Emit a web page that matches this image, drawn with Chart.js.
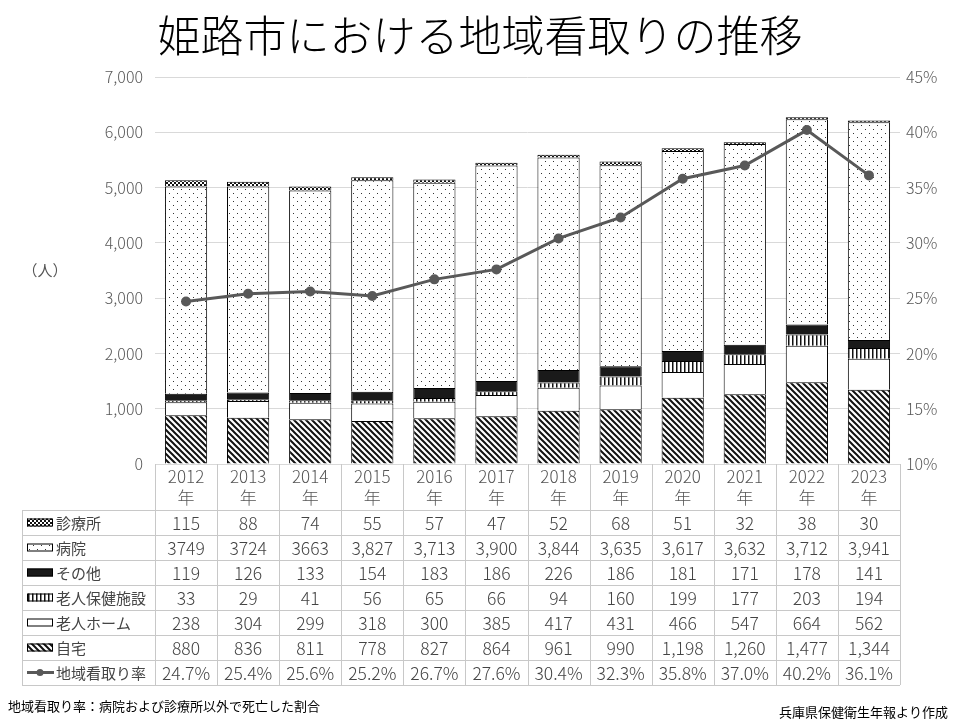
<!DOCTYPE html>
<html lang="ja">
<head>
<meta charset="UTF-8">
<title>姫路市における地域看取りの推移</title>
<script src="https://cdn.jsdelivr.net/npm/chart.js"></script>
<style>
  body { margin: 0; background: #fff; }
  #wrap { width: 960px; height: 720px; }
</style>
</head>
<body>
<div id="wrap"><canvas id="c" width="960" height="720"></canvas></div>
<script>
const years = ['2012', '2013', '2014', '2015', '2016', '2017', '2018', '2019', '2020', '2021', '2022', '2023'];
const clinic = [115, 88, 74, 55, 57, 47, 52, 68, 51, 32, 38, 30];
const hospital = [3749, 3724, 3663, 3827, 3713, 3900, 3844, 3635, 3617, 3632, 3712, 3941];
const other = [119, 126, 133, 154, 183, 186, 226, 186, 181, 171, 178, 141];
const geriatric = [33, 29, 41, 56, 65, 66, 94, 160, 199, 177, 203, 194];
const nursingHome = [238, 304, 299, 318, 300, 385, 417, 431, 466, 547, 664, 562];
const home = [880, 836, 811, 778, 827, 864, 961, 990, 1198, 1260, 1477, 1344];
const rate = [24.7, 25.4, 25.6, 25.2, 26.7, 27.6, 30.4, 32.3, 35.8, 37.0, 40.2, 36.1];

const FONT = '"Noto Sans CJK JP", "Noto Sans", sans-serif';

function makePattern(kind) {
  const p = document.createElement('canvas');
  const g = p.getContext('2d');
  if (kind === 'diag') {
    p.width = 6; p.height = 6;
    g.fillStyle = '#fff'; g.fillRect(0, 0, 6, 6);
    g.strokeStyle = '#111'; g.lineWidth = 2;
    g.beginPath();
    g.moveTo(0, 0); g.lineTo(6, 6);
    g.moveTo(-3, 3); g.lineTo(3, 9);
    g.moveTo(3, -3); g.lineTo(9, 3);
    g.stroke();
  } else if (kind === 'vert') {
    p.width = 4; p.height = 4;
    g.fillStyle = '#fff'; g.fillRect(0, 0, 4, 4);
    g.fillStyle = '#111'; g.fillRect(0, 0, 1.5, 4);
  } else if (kind === 'dots') {
    p.width = 8; p.height = 8;
    g.fillStyle = '#fff'; g.fillRect(0, 0, 8, 8);
    g.fillStyle = '#333';
    g.fillRect(1, 1, 1, 1); g.fillRect(5, 5, 1, 1);
  } else if (kind === 'check') {
    p.width = 4; p.height = 4;
    g.fillStyle = '#fff'; g.fillRect(0, 0, 4, 4);
    g.fillStyle = '#111';
    g.fillRect(0, 0, 2, 2); g.fillRect(2, 2, 2, 2);
  }
  return g.createPattern(p, 'repeat');
}

const ctx = document.getElementById('c').getContext('2d');
const pDiag = makePattern('diag');
const pVert = makePattern('vert');
const pDots = makePattern('dots');
const pCheck = makePattern('check');

// table rows, top to bottom
const rows = [
  { label: '診療所', data: clinic, fill: pCheck },
  { label: '病院', data: hospital, fill: pDots },
  { label: 'その他', data: other, fill: '#1a1a1a' },
  { label: '老人保健施設', data: geriatric, fill: pVert },
  { label: '老人ホーム', data: nursingHome, fill: '#fff' },
  { label: '自宅', data: home, fill: pDiag },
  { label: '地域看取り率', data: rate, line: true }
];

function fmt(v, i, label) {
  if (label === '地域看取り率') return v.toFixed(1) + '%';
  // the source shows commas from 2015 on for the hospital row, and from 2020 on for 自宅
  if (v >= 1000 && (label !== '病院' || i >= 3)) return v.toLocaleString('en-US');
  return String(v);
}

const tablePlugin = {
  id: 'table',
  afterDraw(chart) {
    const c = chart.ctx;
    const x = chart.scales.x;
    const area = chart.chartArea;
    const colW = (area.right - area.left) / years.length;
    const top = area.bottom;
    const headH = 46;
    const rowH = 25;
    const leftX = 22;
    const bottom = top + headH + rowH * rows.length;
    c.save();
    // title
    c.fillStyle = '#000';
    c.font = '300 43px ' + FONT;
    c.textAlign = 'center';
    c.textBaseline = 'middle';
    c.fillText('姫路市における地域看取りの推移', 480, 36);
    // (人)
    c.font = '15px ' + FONT;
    c.fillStyle = '#555';
    c.fillText('（人）', 45, 270);

    c.strokeStyle = '#c8c8c8';
    c.lineWidth = 1;
    c.beginPath();
    for (let i = 0; i <= years.length; i++) {
      const lx = Math.round(area.left + colW * i) + 0.5;
      c.moveTo(lx, top); c.lineTo(lx, bottom);
    }
    c.moveTo(leftX + 0.5, top + headH); c.lineTo(leftX + 0.5, bottom);
    for (let r = 0; r <= rows.length; r++) {
      const ly = Math.round(top + headH + rowH * r) + 0.5;
      c.moveTo(leftX, ly); c.lineTo(area.right, ly);
    }
    c.stroke();

    c.fillStyle = '#555';
    c.font = '300 17px ' + FONT;
    years.forEach((y, i) => {
      const cx = x.getPixelForValue(i);
      c.fillText(y, cx, top + 13);
      c.fillText('年', cx, top + 34);
    });

    rows.forEach((row, r) => {
      const cy = top + headH + rowH * r + rowH / 2;
      // swatch
      if (row.line) {
        c.strokeStyle = '#595959'; c.lineWidth = 3;
        c.beginPath(); c.moveTo(27, cy); c.lineTo(54, cy); c.stroke();
        c.fillStyle = '#595959';
        c.beginPath(); c.arc(40, cy, 3.5, 0, Math.PI * 2); c.fill();
      } else {
        c.fillStyle = row.fill;
        c.fillRect(27, cy - 4, 26, 8);
        c.strokeStyle = '#000'; c.lineWidth = 1;
        c.strokeRect(27.5, cy - 3.5, 25, 7);
      }
      c.fillStyle = '#444';
      c.font = '15px ' + FONT;
      c.textAlign = 'left';
      c.fillText(row.label, 56, cy + 1);
      c.textAlign = 'center';
      c.font = '300 17.5px ' + FONT;
      row.data.forEach((v, i) => {
        c.fillText(fmt(v, i, row.label), x.getPixelForValue(i), cy + 1);
      });
    });

    c.fillStyle = '#000';
    c.font = '13px ' + FONT;
    c.textAlign = 'left';
    c.fillText('地域看取り率：病院および診療所以外で死亡した割合', 8, 706);
    c.textAlign = 'right';
    c.fillText('兵庫県保健衛生年報より作成', 948, 712);
    c.restore();
  }
};

function bar(label, data, fill) {
  return {
    type: 'bar', label, data, backgroundColor: fill,
    borderColor: '#000', borderWidth: 1, yAxisID: 'y',
    categoryPercentage: 1, barPercentage: 0.68, order: 2
  };
}

new Chart(ctx, {
  data: {
    labels: years,
    datasets: [
      {
        type: 'line', label: '地域看取り率', data: rate, yAxisID: 'y2',
        borderColor: '#595959', backgroundColor: '#595959', borderWidth: 3,
        pointRadius: 3.5, pointHoverRadius: 3.5, tension: 0, order: 1
      },
      bar('自宅', home, pDiag),
      bar('老人ホーム', nursingHome, '#fff'),
      bar('老人保健施設', geriatric, pVert),
      bar('その他', other, '#1a1a1a'),
      bar('病院', hospital, pDots),
      bar('診療所', clinic, pCheck)
    ]
  },
  options: {
    responsive: false,
    animation: false,
    layout: { padding: { top: 77, bottom: 256, left: 0, right: 0 } },
    plugins: { legend: { display: false }, title: { display: false }, tooltip: { enabled: false } },
    scales: {
      x: { stacked: true, display: false },
      y: {
        stacked: true, min: 0, max: 7000,
        ticks: { stepSize: 1000, color: '#595959', font: { size: 16, family: FONT, weight: '300' }, padding: 12,
          callback: v => v.toLocaleString('en-US') },
        grid: { color: '#d9d9d9', drawTicks: false },
        border: { display: false },
        afterFit(s) { s.width = 155; }
      },
      y2: {
        position: 'right', min: 10, max: 45,
        ticks: { stepSize: 5, color: '#595959', font: { size: 16, family: FONT, weight: '300' }, padding: 6,
          callback: v => v + '%' },
        grid: { display: false, drawTicks: false },
        border: { display: false },
        afterFit(s) { s.width = 60; }
      }
    }
  },
  plugins: [tablePlugin]
});
</script>
</body>
</html>
